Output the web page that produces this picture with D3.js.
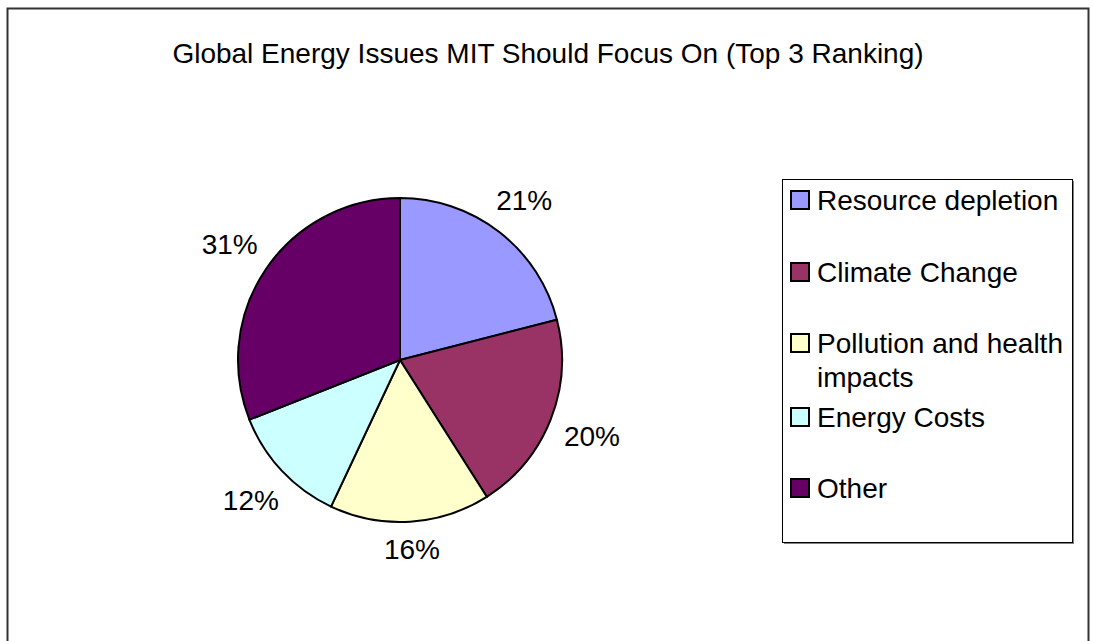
<!DOCTYPE html>
<html><head><meta charset="utf-8">
<script src="https://cdn.jsdelivr.net/npm/d3@7"></script>
<style>
html,body{margin:0;padding:0;background:#fff;}
svg{display:block;font-family:"Liberation Sans",Arial,sans-serif;}
</style></head>
<body>
<svg id="chart" width="1093" height="641"></svg>
<script>
const categories = ["Resource depletion", "Climate Change", "Pollution and health impacts", "Energy Costs", "Other"];
const values = [21, 20, 16, 12, 31];
const colors = ["#9999FF", "#993366", "#FFFFCC", "#CCFFFF", "#660066"];
const legendLines = [["Resource depletion"], ["Climate Change"], ["Pollution and health", "impacts"], ["Energy Costs"], ["Other"]];
const title = "Global Energy Issues MIT Should Focus On (Top 3 Ranking)";

const svg = d3.select("#chart");
const fs = 28;

// outer border
svg.append("rect").attr("x", 7.5).attr("y", 8.5).attr("width", 1081).attr("height", 700)
  .attr("fill", "#fff").attr("stroke", "#333").attr("stroke-width", 2);

svg.append("text").attr("x", 548).attr("y", 63).attr("text-anchor", "middle")
  .attr("font-size", fs).attr("fill", "#000").text(title);

const cx = 400, cy = 360, r = 162;
const data = categories.map((c, i) => ({ name: c, value: values[i], color: colors[i] }));
const pie = d3.pie().value(d => d.value).sort(null);
const arcs = pie(data);
const arc = d3.arc().innerRadius(0).outerRadius(r);

const g = svg.append("g").attr("transform", `translate(${cx},${cy})`);
g.selectAll("path.slice").data(arcs).join("path")
  .attr("class", "slice")
  .attr("d", arc)
  .attr("fill", d => d.data.color)
  .attr("stroke", "#000").attr("stroke-width", 2).attr("stroke-linejoin", "round");

// labels placed outside, bounding box just beyond the rim (Excel "outside end" style)
const gap = 14, halfH = 12;
g.selectAll("text.lbl").data(arcs).join("text")
  .attr("class", "lbl")
  .attr("text-anchor", "middle")
  .attr("font-size", fs).attr("fill", "#000")
  .text(d => d.data.value + "%")
  .each(function(d) {
    const hw = this.getComputedTextLength() / 2;
    const a = (d.startAngle + d.endAngle) / 2;
    const ux = Math.sin(a), uy = -Math.cos(a);
    const dist = r + gap + Math.abs(ux) * hw + Math.abs(uy) * halfH;
    d3.select(this).attr("x", ux * dist).attr("y", uy * dist + 10);
  });

// legend
const lx = 782, ly = 179, lw = 290, lh = 363;
svg.append("rect").attr("x", lx + 2).attr("y", ly + 2).attr("width", lw).attr("height", lh).attr("fill", "#808080");
svg.append("rect").attr("x", lx + 0.5).attr("y", ly + 0.5).attr("width", lw).attr("height", lh)
  .attr("fill", "#fff").attr("stroke", "#000").attr("stroke-width", 1);

const baselines = [210, 282, 353, 427, 498];
const lg = svg.append("g");
const items = lg.selectAll("g.item").data(data).join("g").attr("class", "item");
items.append("rect")
  .attr("x", 791).attr("y", (d, i) => baselines[i] - 19)
  .attr("width", 18).attr("height", 18)
  .attr("fill", d => d.color).attr("stroke", "#000").attr("stroke-width", 2);
items.each(function(d, i) {
  const t = d3.select(this).append("text").attr("x", 817).attr("y", baselines[i])
    .attr("font-size", fs).attr("fill", "#000");
  legendLines[i].forEach((line, j) => {
    t.append("tspan").attr("x", 817).attr("dy", j === 0 ? 0 : 34).text(line);
  });
});
</script>
</body></html>
